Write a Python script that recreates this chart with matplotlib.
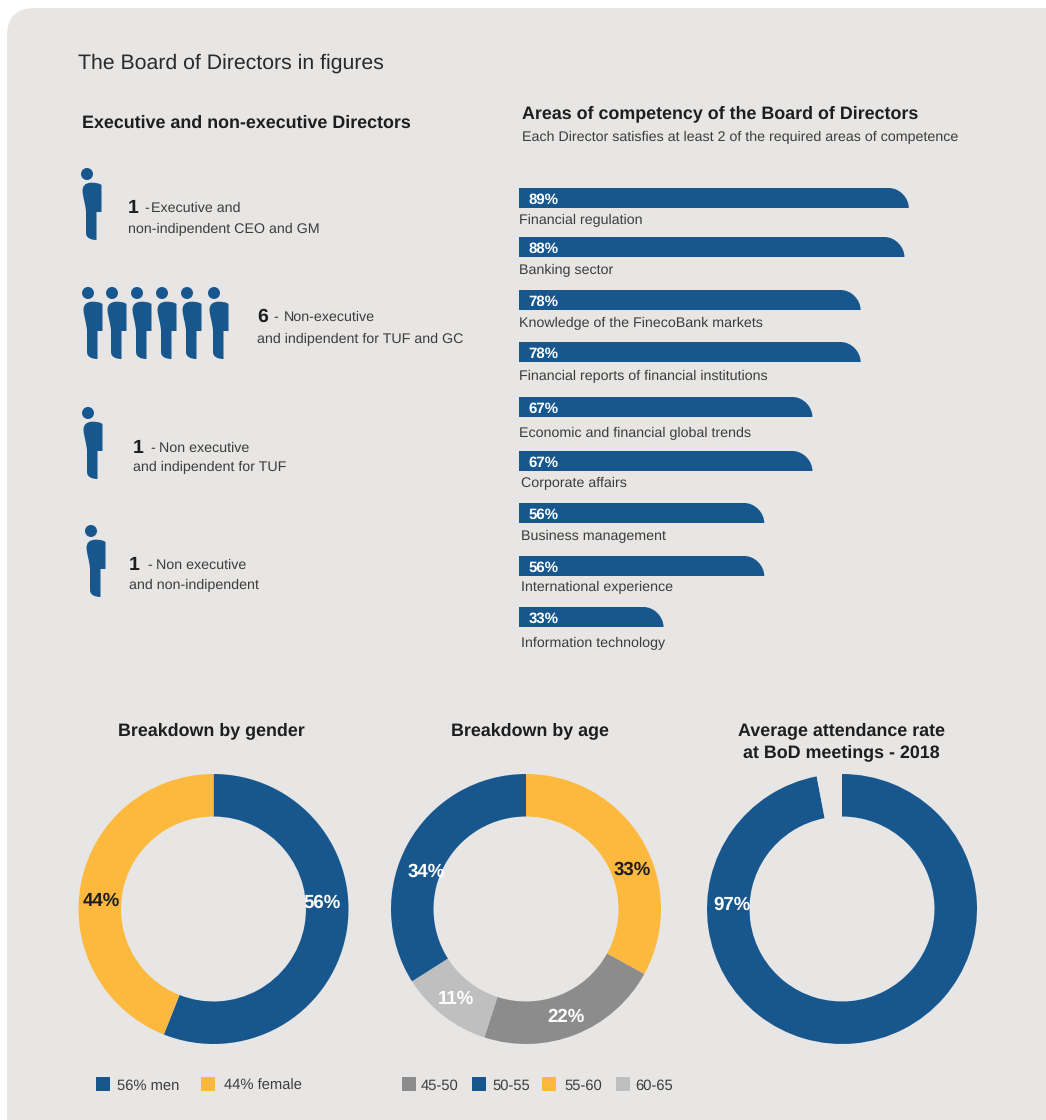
import matplotlib
matplotlib.use('Agg')
import matplotlib.pyplot as plt
from matplotlib.patches import Circle, FancyBboxPatch, PathPatch, Rectangle
from matplotlib.path import Path

WIDTH, HEIGHT = 1046, 1120
BLUE = '#17578e'
YELLOW = '#fdb93d'
GREY = '#8c8c8c'
LIGHT = '#bfbfbf'
CARD = '#e7e6e5'
DARK = '#1e1e1e'
TEXT = '#3c3c3c'

plt.rcParams['font.family'] = ['Liberation Sans', 'DejaVu Sans']
plt.rcParams['text.hinting'] = 'none'

# Competency bars
areas = ['Financial regulation', 'Banking sector',
         'Knowledge of the FinecoBank markets',
         'Financial reports of financial institutions',
         'Economic and financial global trends', 'Corporate affairs',
         'Business management', 'International experience',
         'Information technology']
area_share = [89, 88, 78, 78, 67, 67, 56, 56, 33]

# Donuts
gender_labels = ['men', 'female']
gender_share = [56, 44]
age_labels = ['55-60', '45-50', '60-65', '50-55']
age_share = [33, 22, 11, 34]
attendance_share = [97, 3]

# Director groups: count, first line, second line
director_counts = [1, 6, 1, 1]
director_first = ['Executive and', 'Non-executive', 'Non executive', 'Non executive']
director_second = ['non-indipendent CEO and GM',
                   'and indipendent for TUF and GC',
                   'and indipendent for TUF', 'and non-indipendent']

# Layout, in pixels from the top left corner
bar_tops = [188, 237, 290, 342, 397, 451, 503, 556, 607]
area_label_y = [219, 269, 322, 375, 432, 482, 535, 586, 642]
area_label_x = [519, 519, 519, 519, 519, 521, 521, 521, 521]
bar_height = 20
bar_left = 519
px_per_percent = 4.38
six_heads = [88, 112, 137, 162, 187, 214]

BODY = 10.3
HEAD = 12.9

figure = plt.figure(figsize=(WIDTH / 100, HEIGHT / 100), dpi=100)
figure.patch.set_facecolor('white')


def pixel_axes(left, top, width, height):
    return figure.add_axes([left / WIDTH, 1 - (top + height) / HEIGHT,
                            width / WIDTH, height / HEIGHT])


def plain_axes():
    axis = pixel_axes(0, 0, WIDTH, HEIGHT)
    axis.set_xlim(0, WIDTH)
    axis.set_ylim(HEIGHT, 0)
    axis.axis('off')
    return axis


back = plain_axes()
back.add_patch(FancyBboxPatch((7 + 28, 8 + 28), WIDTH + 100, HEIGHT + 100,
                              boxstyle='round,pad=28,rounding_size=28',
                              facecolor=CARD, edgecolor='none'))

# Text and icons sit above the donuts
page = plain_axes()
page.set_zorder(3)


def person(axis, x, y):
    # x, y is the centre of the head
    axis.add_patch(Circle((x, y), 6, facecolor=BLUE, edgecolor='none'))
    verts = [(x + 4, y + 8.7),
             (x - 2, y + 9), (x - 4.5, y + 12), (x - 4.5, y + 17),
             (x - 4, y + 24), (x - 1.5, y + 30), (x - 1, y + 38),
             (x - 1, y + 59),
             (x - 1, y + 64), (x + 4, y + 66), (x + 9.5, y + 66),
             (x + 9.5, y + 38),
             (x + 14.5, y + 38),
             (x + 14.5, y + 11),
             (x + 12, y + 9), (x + 8, y + 8.7), (x + 4, y + 8.7),
             (x + 4, y + 8.7)]
    codes = [Path.MOVETO,
             Path.CURVE4, Path.CURVE4, Path.CURVE4,
             Path.CURVE4, Path.CURVE4, Path.CURVE4,
             Path.LINETO,
             Path.CURVE4, Path.CURVE4, Path.CURVE4,
             Path.LINETO, Path.LINETO, Path.LINETO,
             Path.CURVE4, Path.CURVE4, Path.CURVE4,
             Path.CLOSEPOLY]
    axis.add_patch(PathPatch(Path(verts, codes), facecolor=BLUE, edgecolor='none'))


def label(x, y, string, size=BODY, color=TEXT, weight='normal', ha='left'):
    page.text(x, y, string, fontsize=size, color=color, fontweight=weight,
              ha=ha, va='center_baseline')


# Headings
label(78, 61, 'The Board of Directors in figures', size=15.35, color='#2a2a2a')
label(82, 121, 'Executive and non-executive Directors', size=HEAD, color=DARK, weight='bold')
label(522, 112, 'Areas of competency of the Board of Directors', size=HEAD, color=DARK, weight='bold')
label(522, 136, 'Each Director satisfies at least 2 of the required areas of competence')

# Director groups
person(page, 87, 174)
for head in six_heads:
    person(page, head, 293)
person(page, 88, 413)
person(page, 91, 531)

count_x = [128, 257, 133, 129]
dash_x = [144, 273, 150, 147]
first_x = [151, 284, 159, 156]
line_one_y = [206, 315, 446, 563]
line_two_y = [228, 338, 466, 584]
for i, count in enumerate(director_counts):
    label(count_x[i], line_one_y[i], str(count), size=14, color=DARK, weight='bold')
    label(dash_x[i], line_one_y[i] + 1, '-')
    label(first_x[i], line_one_y[i] + 1, director_first[i])
    label(count_x[i], line_two_y[i], director_second[i])

# Competency bars share one percent scale; y stays in pixels
bars = pixel_axes(bar_left, 0, 100 * px_per_percent, HEIGHT)
bars.set_xlim(0, 100)
bars.set_ylim(HEIGHT, 0)
bars.axis('off')
corner = 20 / px_per_percent
for top, share in zip(bar_tops, area_share):
    bottom = top + bar_height
    verts = [(0, top), (share - corner, top),
             (share - corner * 0.45, top), (share, top + bar_height * 0.5), (share, bottom),
             (0, bottom), (0, top)]
    codes = [Path.MOVETO, Path.LINETO,
             Path.CURVE4, Path.CURVE4, Path.CURVE4,
             Path.LINETO, Path.CLOSEPOLY]
    bars.add_patch(PathPatch(Path(verts, codes), facecolor=BLUE, edgecolor='none'))
    bars.text(2.2, top + 10.5, f'{share}%', color='white', fontsize=10.8,
              fontweight='bold', ha='left', va='center_baseline')

for i, area in enumerate(areas):
    label(area_label_x[i], area_label_y[i], area)


def donut(center_x, values, colors):
    axis = pixel_axes(center_x - 135, 774, 270, 270)
    axis.pie(values, colors=colors, startangle=90, counterclock=False, radius=1,
             wedgeprops={'width': 0.315, 'edgecolor': 'none'})
    axis.set_xlim(-1, 1)
    axis.set_ylim(-1, 1)
    axis.patch.set_alpha(0)


donut(213.5, gender_share, [BLUE, YELLOW])
donut(526, age_share, [YELLOW, GREY, LIGHT, BLUE])
donut(842, attendance_share, [BLUE, CARD])

label(211, 729, 'Breakdown by gender', size=HEAD, color=DARK, weight='bold', ha='center')
label(530, 729, 'Breakdown by age', size=HEAD, color=DARK, weight='bold', ha='center')
label(841, 729, 'Average attendance rate', size=HEAD, color=DARK, weight='bold', ha='center')
label(841, 751, 'at BoD meetings - 2018', size=HEAD, color=DARK, weight='bold', ha='center')

# Slice labels
slice_labels = [(322, 901, gender_share[0], 'white'), (101, 899, gender_share[1], DARK),
                (632, 868, age_share[0], DARK), (566, 1015, age_share[1], 'white'),
                (456, 997, age_share[2], 'white'), (426, 870, age_share[3], 'white'),
                (732, 903, attendance_share[0], 'white')]
for x, y, share, color in slice_labels:
    label(x, y, f'{share}%', size=13.4, color=color, weight='bold', ha='center')

# Legends
gender_keys = [(96, BLUE, 117, f'{gender_share[0]}% {gender_labels[0]}'),
               (201, YELLOW, 224, f'{gender_share[1]}% {gender_labels[1]}')]
age_keys = [(402, GREY, 421, age_labels[1]), (472, BLUE, 492, age_labels[3]),
            (542, YELLOW, 564, age_labels[0]), (616, LIGHT, 635, age_labels[2])]
for key_x, color, text_x, string in gender_keys + age_keys:
    page.add_patch(Rectangle((key_x, 1077), 14, 14, facecolor=color, edgecolor='none'))
    label(text_x, 1084.5, string, size=10.6)

figure.savefig('out.png', dpi=100)
